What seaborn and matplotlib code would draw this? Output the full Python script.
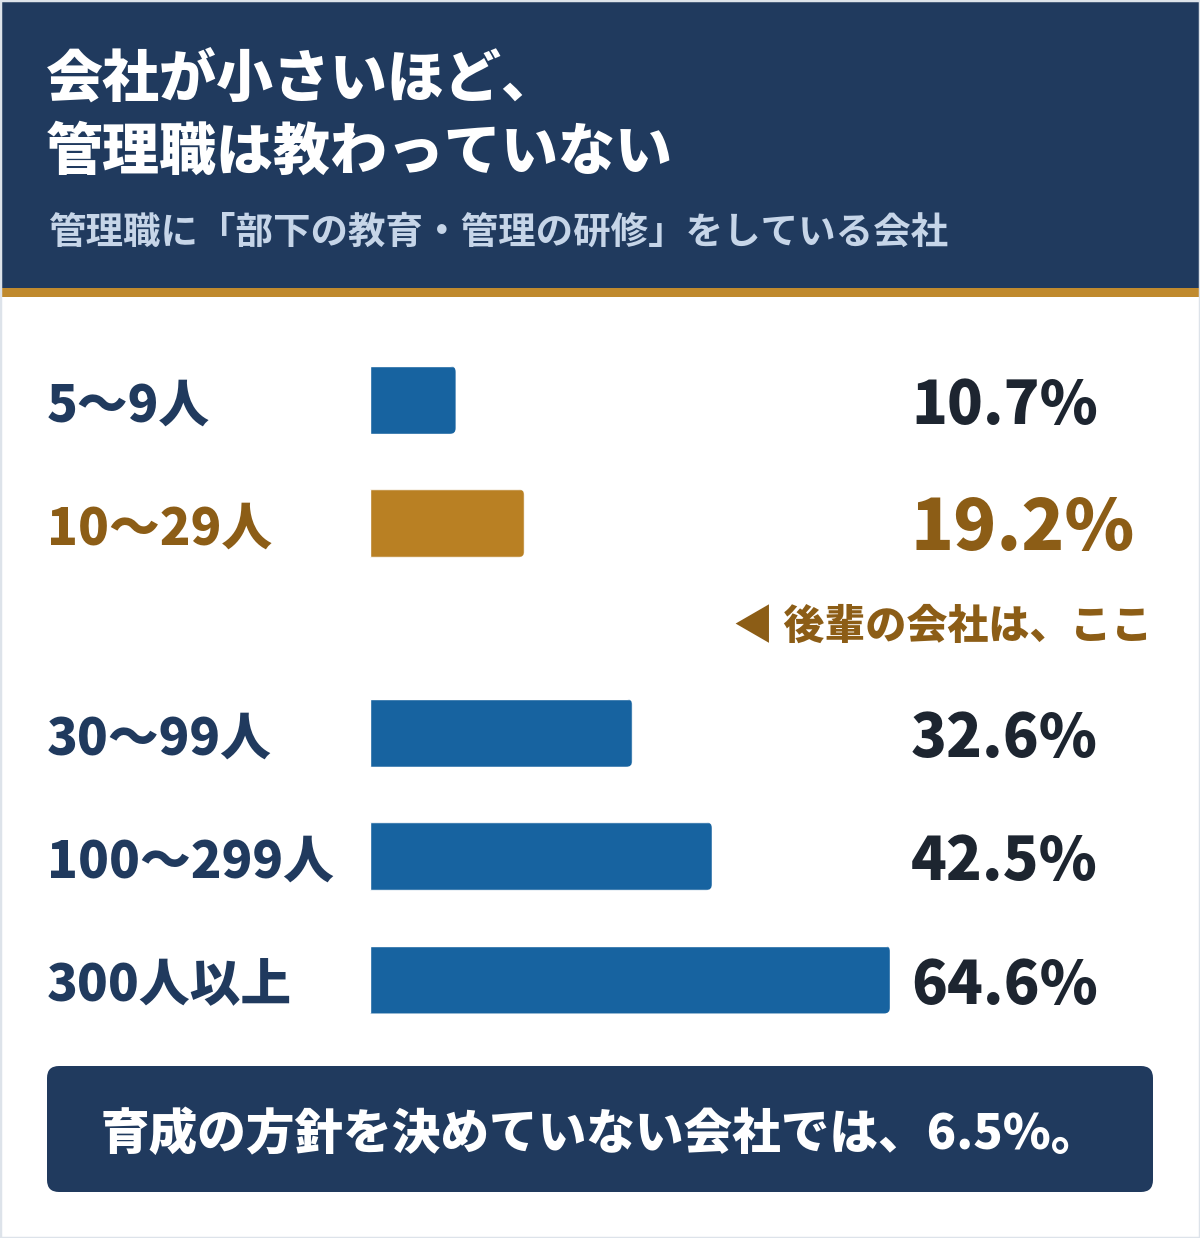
import numpy as np
import pandas as pd
import matplotlib
matplotlib.use("Agg")
import matplotlib.pyplot as plt
import matplotlib.transforms as mtrans
from matplotlib.patches import Rectangle, FancyBboxPatch
import seaborn as sns

# ---- data ----
categories = ["5〜9人", "10〜29人", "30〜99人", "100〜299人", "300人以上"]
values = [10.7, 19.2, 32.6, 42.5, 64.6]
value_labels = ["10.7%", "19.2%", "32.6%", "42.5%", "64.6%"]
highlight = ["normal", "focus", "normal", "normal", "normal"]
row_pos = [0.0, 1.0, 2.7, 3.7, 4.7]

title_lines = ["会社が小さいほど、", "管理職は教わっていない"]
subtitle = "管理職に「部下の教育・管理の研修」をしている会社"
annotation = "◀ 後輩の会社は、ここ"
footer = "育成の方針を決めていない会社では、6.5%。"

NAVY = "#203a5e"
GOLD_LINE = "#c08a2e"
BLUE = "#1763a0"
GOLD_BAR = "#b98023"
GOLD_TXT = "#8c5d16"
VAL_TXT = "#1d2530"
SUB_TXT = "#c6d5e8"
HEAVY = "heavy"

sns.set_theme(style="white")
plt.rcParams["font.family"] = ["Noto Sans CJK JP", "DejaVu Sans"]

W, H = 1200, 1238
fig = plt.figure(figsize=(W / 100, H / 100), dpi=100)
fig.patch.set_facecolor("white")

def fx(px):
    return px / W

def fy(py):
    return 1 - py / H

# header
fig.add_artist(Rectangle((0, fy(288)), 1, 288 / H, transform=fig.transFigure,
                         facecolor=NAVY, edgecolor="none", zorder=0))
fig.add_artist(Rectangle((0, fy(297)), 1, 9 / H, transform=fig.transFigure,
                         facecolor=GOLD_LINE, edgecolor="none", zorder=0))
# outer border
fig.add_artist(Rectangle((0, 0), 1, 1, transform=fig.transFigure,
                         facecolor="none", edgecolor="#dde3ea", linewidth=2.5, zorder=10))

fig.text(fx(46), fy(80), title_lines[0], color="white", fontsize=41,
         fontweight=HEAVY, ha="left", va="center")
fig.text(fx(46), fy(153), title_lines[1], color="white", fontsize=41,
         fontweight=HEAVY, ha="left", va="center")
fig.text(fx(48), fy(232), subtitle, color=SUB_TXT, fontsize=27,
         fontweight="bold", ha="left", va="center")

# bar axes
row_px = 123.3
y0_px = 400
ylo, yhi = -0.5, 5.2
top_px = y0_px + ylo * row_px
bot_px = y0_px + yhi * row_px
ax = fig.add_axes([fx(369.5), fy(bot_px), fx(890) - fx(369.5), (bot_px - top_px) / H])

df = pd.DataFrame({"cat": categories, "value": values, "pos": row_pos, "hl": highlight})
sns.barplot(data=df, x="value", y="pos", hue="hl", orient="h", native_scale=True,
            palette={"normal": BLUE, "focus": GOLD_BAR}, width=68 / row_px,
            dodge=False, errorbar=None, legend=False, ax=ax, saturation=1)
ax.set_xlim(0, max(values))
ax.set_ylim(yhi, ylo)
ax.axis("off")

lab_tr = mtrans.blended_transform_factory(fig.transFigure, ax.transData)
dy = 6 / row_px
for cat, v, lbl, hl, p in zip(categories, values, value_labels, highlight, row_pos):
    focus = hl == "focus"
    ax.text(fx(47), p + dy, cat, transform=lab_tr, ha="left", va="center",
            fontsize=36.5, fontweight=HEAVY, color=GOLD_TXT if focus else NAVY)
    ax.text(fx(911), p + dy, lbl, transform=lab_tr, ha="left", va="center",
            fontsize=51 if focus else 42.5, fontweight=HEAVY,
            color=GOLD_TXT if focus else VAL_TXT)

fig.text(fx(733), fy(627), annotation, color=GOLD_TXT, fontsize=29.5,
         fontweight=HEAVY, ha="left", va="center")

# footer box (display pixel coords)
fig.add_artist(FancyBboxPatch((47 + 12, H - 1192 + 12), 1106 - 24, 126 - 24,
                              boxstyle="round,pad=12", transform=mtrans.IdentityTransform(),
                              facecolor=NAVY, edgecolor="none", zorder=1))
fig.text(0.5, fy(1135), footer, color="white", fontsize=35, fontweight=HEAVY,
         ha="center", va="center", zorder=2)

# round the right corners of the bars
fig.canvas.draw()
r = 6
for patch in ax.patches:
    bb = patch.get_window_extent()
    clip = FancyBboxPatch((bb.x0 - 2 * r, bb.y0 + r), bb.width + r, bb.height - 2 * r,
                          boxstyle=f"round,pad={r}", transform=mtrans.IdentityTransform())
    patch.set_clip_path(clip)

fig.savefig("out.png", dpi=100)
